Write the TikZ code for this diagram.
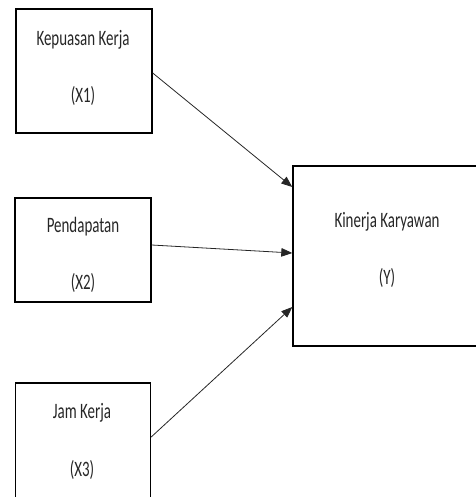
\documentclass[tikz,border=0pt]{standalone}
\usepackage{fontspec}
\setmainfont{Carlito}
\usetikzlibrary{arrows.meta}
\tikzset{varbox/.style={rectangle,draw=black,line width=1.4pt,inner sep=0pt},
  varlabel/.style={font=\fontsize{22}{26}\selectfont,xscale=0.68,transform shape,inner sep=0pt,text=black!85},
  arrowout/.style={-{Triangle[length=11pt,width=8.5pt]},line width=0.8pt,draw=black!85}}

\begin{document}
\begin{tikzpicture}[x=1pt,y=-1pt]
\useasboundingbox (0,0) rectangle (475,497);

%independent variables
\node (kk) at (84,71)[varbox,minimum width=136pt,minimum height=124pt]{};
\node (kka) at (83,40)[varlabel]{Kepuasan Kerja};
\node (kkb) at (83,96)[varlabel]{(X1)};

\node (pd) at (83,250)[varbox,minimum width=136pt,minimum height=104pt]{};
\node (pda) at (83,227)[varlabel]{Pendapatan};
\node (pdb) at (83,283)[varlabel]{(X2)};

\node (jk) at (83,445)[varbox,minimum width=135pt,minimum height=124pt]{};
\node (jka) at (82,413)[varlabel]{Jam Kerja};
\node (jkb) at (82,470)[varlabel]{(X3)};

%dependent variable
\node (ky) at (388,256)[varbox,minimum width=190pt,minimum height=180pt]{};
\node (kya) at (387,222)[varlabel]{Kinerja Karyawan};
\node (kyb) at (387,278)[varlabel]{(Y)};

\draw[arrowout] ([yshift=-2pt]kk.east) -- ([yshift=69pt]ky.west);
\draw[arrowout] ([yshift=5pt]pd.east) -- ([yshift=3pt]ky.west);
\draw[arrowout] ([yshift=8pt]jk.east) -- ([yshift=-51pt]ky.west);

\end{tikzpicture}
\end{document}
